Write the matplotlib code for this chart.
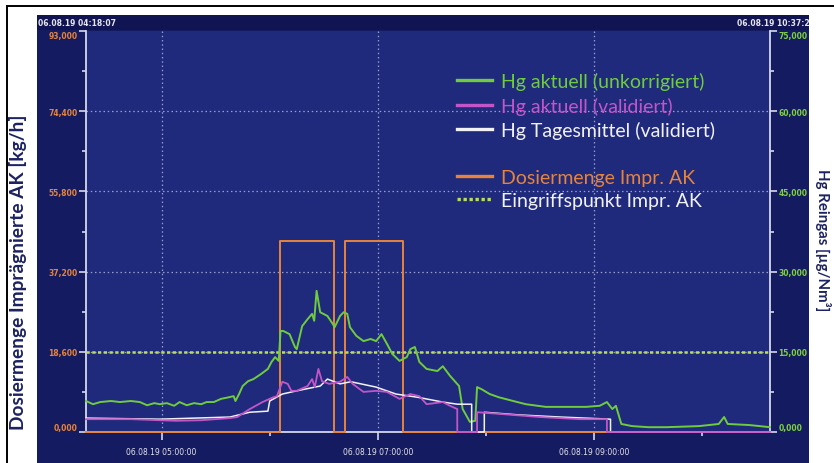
import matplotlib
matplotlib.use("Agg")
import matplotlib.pyplot as plt
import matplotlib.dates as mdates
from matplotlib.lines import Line2D
from matplotlib.patches import Rectangle
from matplotlib.ticker import FixedLocator, FuncFormatter
import pandas as pd

# ====================== DATA ======================
DAY = "2019-08-06 "
T_START, T_END = "04:18:07", "10:37:27"

# Hg aktuell (unkorrigiert) [µg/Nm³]
green_t = ["04:18:07", "04:22", "04:26", "04:32", "04:37", "04:43", "04:48", "04:52", "04:56", "04:59",
           "05:03", "05:07", "05:10", "05:14", "05:18", "05:22", "05:25", "05:29", "05:33", "05:36",
           "05:40", "05:41", "05:43", "05:45", "05:48", "05:51", "05:55", "05:59", "06:01", "06:03",
           "06:05", "06:06", "06:07:30", "06:11", "06:14", "06:15", "06:18", "06:21", "06:23:30", "06:24:40",
           "06:26", "06:28", "06:32", "06:35", "06:36", "06:39", "06:41", "06:43", "06:44:30", "06:48",
           "06:52", "06:56", "06:59", "07:02", "07:05", "07:08", "07:12", "07:16", "07:18", "07:20:30",
           "07:23", "07:27", "07:33", "07:36", "07:40", "07:45", "07:47", "07:51", "07:54", "07:55",
           "07:57:30", "08:02", "08:07", "08:15", "08:22", "08:33", "08:44", "08:55:30", "09:03", "09:07",
           "09:10", "09:12", "09:15", "09:21", "09:30", "09:40", "09:58", "10:09", "10:12", "10:14",
           "10:26", "10:37:27"]
green_v = [5.8, 5.2, 5.6, 5.8, 5.6, 5.8, 5.6, 5.0, 5.4, 5.2,
           5.4, 4.9, 5.6, 5.0, 5.4, 5.2, 5.6, 5.6, 6.2, 6.4,
           6.7, 5.8, 7.1, 8.6, 9.5, 9.9, 10.8, 11.8, 13.1, 14.0,
           13.3, 18.9, 18.9, 18.3, 15.9, 15.5, 19.8, 21.1, 22.1, 20.8,
           26.4, 22.4, 21.7, 20.2, 19.6, 21.7, 22.4, 22.1, 19.6, 18.0,
           17.0, 17.4, 17.0, 18.3, 16.5, 14.6, 13.3, 14.0, 15.5, 15.9,
           13.1, 11.8, 11.4, 12.3, 10.5, 8.6, 4.3, 1.9, 2.1, 8.4,
           8.0, 7.1, 6.5, 5.8, 5.2, 4.7, 4.7, 4.7, 4.9, 5.6,
           4.3, 4.9, 1.5, 1.1, 0.9, 0.9, 1.1, 1.5, 2.8, 1.5,
           1.3, 0.9]

# Hg aktuell (validiert) [µg/Nm³]
mag_t = ["04:18:07", "04:43", "04:59", "05:08", "05:22", "05:38", "05:42", "05:49", "05:56", "06:02",
         "06:04", "06:07", "06:10", "06:12", "06:15", "06:21", "06:23:30", "06:25", "06:27", "06:29",
         "06:33", "06:39", "06:43", "06:46", "06:52", "06:59", "07:05", "07:12", "07:18", "07:23",
         "07:27", "07:36", "07:40", "07:44", "07:44:01", "07:55", "07:55:01", "08:07", "08:30", "08:52",
         "09:07", "09:07:01", "10:37:27"]
mag_v = [2.4, 2.4, 2.2, 2.1, 2.2, 2.6, 2.8, 4.3, 5.6, 6.5,
         6.7, 9.4, 9.0, 7.7, 7.7, 8.6, 9.9, 8.4, 11.8, 9.5,
         9.0, 9.4, 10.3, 9.0, 7.5, 7.7, 7.5, 6.2, 7.1, 6.7,
         5.2, 5.6, 4.9, 4.3, 0, 0, 3.7, 3.4, 2.8, 2.4,
         2.4, 0, 0]

# Hg Tagesmittel (validiert) [µg/Nm³]
white_t = ["04:18:07", "04:59", "05:38", "05:49", "05:59", "06:00", "06:07", "06:15", "06:28", "06:32",
           "06:39", "06:45", "06:59", "07:10", "07:22", "07:36", "07:44", "07:52", "07:52:01", "07:59",
           "07:59:01", "08:18", "08:41", "09:09", "09:09:01", "10:37:27"]
white_v = [2.6, 2.4, 2.8, 3.7, 3.9, 5.8, 7.1, 7.7, 8.6, 9.9,
           9.0, 9.4, 8.4, 7.1, 6.5, 5.6, 5.2, 5.2, 0, 0,
           3.7, 3.2, 2.8, 2.4, 0, 0]

# Dosiermenge Impr. AK [kg/h]
dose_t = ["04:18:07", "06:05:50", "06:05:50", "06:35:40", "06:35:40",
          "06:41:50", "06:41:50", "07:13:50", "07:13:50", "10:37:27"]
dose_v = [0, 0, 44.3, 44.3, 0, 0, 44.3, 44.3, 0, 0]

EINGRIFF = 15.0  # µg/Nm³

dose_ticks = [0, 18.6, 37.2, 55.8, 74.4, 93.0]
hg_ticks = [0, 15, 30, 45, 60, 75]

labels = ["Hg aktuell (unkorrigiert)", "Hg aktuell (validiert)", "Hg Tagesmittel (validiert)",
          " ", "Dosiermenge Impr. AK", "Eingriffspunkt Impr. AK"]

# ====================== STYLE ======================
C_GREEN = "#6fcc3c"
C_MAG = "#c455c8"
C_WHITE = "#f2f2f6"
C_ORANGE = "#e8843a"
C_EING = "#b9e052"
C_PLOT = "#1f2a7c"
C_FRAME = "#151b60"
C_HEAD = "#101452"
C_AXIS = "#d4d8ea"
C_TITLE = "#1c2262"

plt.rcParams["font.family"] = ["Lato", "DejaVu Sans"]

W, H = 834, 464


def fx(p):
    return p / W


def fy(p):
    return 1 - p / H


def ts(t):
    return pd.to_datetime([DAY + s for s in t], format="mixed")


def comma(v, _):
    return f"{v:.3f}".replace(".", ",")


fig = plt.figure(figsize=(W / 100, H / 100), dpi=100, facecolor="white")

# outer frame and dark panel (behind the axes)
fig.add_artist(Line2D([fx(7), 1], [fy(6.5), fy(6.5)], color="black", lw=1.4, transform=fig.transFigure))
fig.add_artist(Line2D([fx(7), fx(7)], [fy(6.5), 0], color="black", lw=1.4, transform=fig.transFigure))
panel = Rectangle((fx(37), 0), fx(809) - fx(37), fy(16), transform=fig.transFigure,
                  facecolor=C_FRAME, edgecolor="none", zorder=-3)
fig.add_artist(panel)
fig.add_artist(Rectangle((fx(37), fy(31)), fx(809) - fx(37), fy(16) - fy(31), transform=fig.transFigure,
                         facecolor=C_HEAD, edgecolor="none", zorder=-2))

hdr_kw = dict(color="#e6e6ee", fontsize=5.5, fontweight="bold", va="center", family="DejaVu Sans")
fig.text(fx(38), fy(23.5), "06.08.19 " + T_START, **hdr_kw)
t_right = fig.text(fx(737), fy(23.5), "06.08.19 " + T_END, **hdr_kw)
t_right.set_clip_path(panel)

ax = fig.add_axes([fx(86), fy(433), fx(770) - fx(86), fy(32) - fy(433)])
ax.set_facecolor(C_PLOT)
ax2 = ax.twinx()

# grid
for v in dose_ticks[1:-1]:
    ax.axhline(v, color="#c0c6e6", lw=0.9, ls=(0, (1.2, 2.2)), alpha=0.75, zorder=1)
for h in ts(["05:00", "07:00", "09:00"]):
    ax.axvline(h, color="#c0c6e6", lw=0.9, ls=(0, (1.2, 2.2)), alpha=0.75, zorder=1)

ax.plot(ts(dose_t), dose_v, color=C_ORANGE, lw=1.4, clip_on=False, zorder=3)

ax2.axhline(EINGRIFF, color=C_EING, lw=1.8, ls=(0, (1.3, 1.0)), zorder=2)
ax2.plot(ts(green_t), green_v, color=C_GREEN, lw=1.4, clip_on=False, zorder=3)
ax2.plot(ts(white_t), white_v, color=C_WHITE, lw=1.1, clip_on=False, zorder=4)
ax2.plot(ts(mag_t), mag_v, color=C_MAG, lw=1.3, clip_on=False, zorder=5)

x0, x1 = ts([T_START, T_END])
ax.set_xlim(x0, x1)
ax.set_ylim(0, 93)
ax2.set_ylim(0, 75)

ax.xaxis.set_major_locator(mdates.HourLocator(byhour=[5, 7, 9]))
ax.xaxis.set_minor_locator(mdates.HourLocator(byhour=[6, 8, 10]))
ax.xaxis.set_major_formatter(mdates.DateFormatter("%d.%m.%y %H:%M:%S"))

ax.yaxis.set_major_locator(FixedLocator(dose_ticks))
ax.yaxis.set_minor_locator(FixedLocator([(a + b) / 2 for a, b in zip(dose_ticks[:-1], dose_ticks[1:])]))
ax.yaxis.set_major_formatter(FuncFormatter(comma))
ax2.yaxis.set_major_locator(FixedLocator(hg_ticks))
ax2.yaxis.set_minor_locator(FixedLocator([(a + b) / 2 for a, b in zip(hg_ticks[:-1], hg_ticks[1:])]))
ax2.yaxis.set_major_formatter(FuncFormatter(comma))

for a in (ax, ax2):
    a.spines["top"].set_visible(False)
    for s in ("left", "right", "bottom"):
        a.spines[s].set_color(C_AXIS)
        a.spines[s].set_linewidth(1.3)
ax.spines["right"].set_visible(False)
ax2.spines["left"].set_visible(False)
ax2.spines["bottom"].set_visible(False)

ax.tick_params(axis="x", which="major", direction="out", length=6, width=1.2, color=C_AXIS,
               labelcolor="#e4e4ee", labelsize=5.5, pad=5)
ax.tick_params(axis="x", which="minor", direction="out", length=3, width=1.2, color=C_AXIS)
ax.tick_params(axis="y", which="major", direction="out", length=5, width=1.2, color=C_AXIS,
               labelcolor=C_ORANGE, labelsize=5.5, pad=1)
ax.tick_params(axis="y", which="minor", direction="out", length=3, width=1.2, color=C_AXIS)
ax2.tick_params(axis="y", which="major", direction="out", length=5, width=1.2, color=C_AXIS,
                labelcolor="#7ed23c", labelsize=5.5, pad=1)
ax2.tick_params(axis="y", which="minor", direction="out", length=3, width=1.2, color=C_AXIS)
for lab in ax.get_xticklabels():
    lab.set_family("DejaVu Sans")
for a in (ax, ax2):
    tl = a.get_yticklabels()
    for lab in tl:
        lab.set_family("DejaVu Sans")
        lab.set_fontweight("bold")
    tl[0].set_va("bottom")
    tl[-1].set_va("top")

# legend
handles = [Line2D([], [], color=C_GREEN, lw=2.4),
           Line2D([], [], color=C_MAG, lw=2.4),
           Line2D([], [], color=C_WHITE, lw=2.4),
           Line2D([], [], color="none"),
           Line2D([], [], color=C_ORANGE, lw=2.4),
           Line2D([], [], color=C_EING, lw=2.4, ls=(0, (1.0, 0.8)))]
leg = ax2.legend(handles, labels, loc="upper left", bbox_to_anchor=(fx(457), fy(73)),
                 bbox_transform=fig.transFigure, frameon=False, fontsize=14,
                 labelcolor=[C_GREEN, C_MAG, C_WHITE, C_WHITE, C_ORANGE, C_WHITE],
                 handlelength=1.8, handletextpad=0.45, labelspacing=0.33, borderpad=0,
                 borderaxespad=0)

fig.text(fx(18), fy(272), "Dosiermenge Imprägnierte AK [kg/h]", rotation=90, ha="center", va="center",
         color=C_TITLE, fontsize=13.8, fontweight="bold")
fig.text(fx(823), fy(240), "Hg Reingas [µg/Nm³]", rotation=-90, ha="center", va="center",
         color=C_TITLE, fontsize=10.8, fontweight="bold")

fig.savefig("out.png", dpi=100, facecolor="white")
